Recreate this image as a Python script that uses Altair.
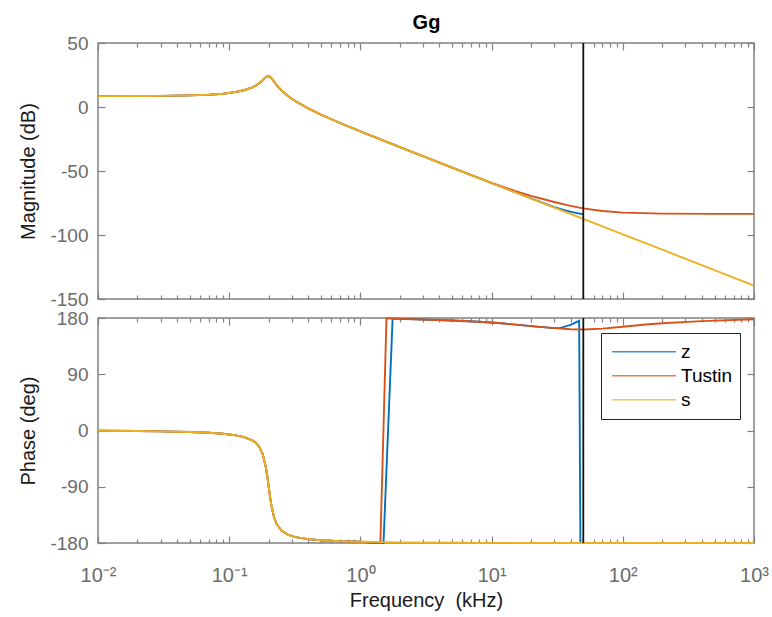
import altair as alt
import pandas as pd

# ---------------- data (frequency in kHz) ----------------
SERIES = ["z", "Tustin", "s"]
COLORS = ["#0072BD", "#D95319", "#EDB120"]
NYQUIST_KHZ = [50]
CHART_TITLE = "Gg"

# magnitude (dB): common low-frequency part (all three coincide up to 5 kHz)
F_MAG_LOW = [0.01, 0.02, 0.03, 0.05, 0.07, 0.09, 0.11, 0.13, 0.15, 0.16, 0.17, 0.18,
             0.19, 0.195, 0.2, 0.205, 0.21, 0.22, 0.23, 0.25, 0.28, 0.32, 0.4, 0.5,
             0.7, 1, 2, 5]
MAG_LOW = [8.5, 8.6, 8.7, 9.1, 9.6, 10.4, 11.6, 13.1, 15.3, 16.8, 18.7, 20.9,
           23.2, 24.0, 24.2, 23.6, 22.5, 19.7, 17.1, 13.0, 8.6, 4.5, -1.1, -5.9,
           -12.5, -19.1, -31.4, -47.4]
F_MAG_S_HI = [10, 20, 50, 100, 200, 500, 1000]
MAG_S_HI = [-59.5, -71.5, -87.4, -99.5, -111.5, -127.4, -139.5]
F_MAG_T_HI = [10, 15, 20, 30, 40, 50, 70, 100, 200, 500, 1000]
MAG_T_HI = [-59.3, -65.5, -69.5, -74.2, -77.3, -79.2, -81.3, -82.5, -83.3, -83.5, -83.5]
F_MAG_Z_HI = [10, 20, 30, 37, 43, 47, 50]
MAG_Z_HI = [-59.5, -71.4, -78.2, -81.0, -82.5, -83.3, -83.8]

# phase (deg): common low-frequency part (up to 1 kHz)
F_PH_LOW = [0.01, 0.02, 0.03, 0.05, 0.07, 0.09, 0.11, 0.13, 0.15, 0.16, 0.17, 0.18,
            0.19, 0.195, 0.2, 0.205, 0.21, 0.22, 0.23, 0.25, 0.28, 0.32, 0.4, 0.5,
            0.7, 1]
PH_LOW = [-0.5, -0.9, -1.4, -2.5, -3.7, -5.3, -7.4, -10.5, -15.7, -20.0, -26.7, -37.8,
          -58.0, -72.8, -90.0, -106.8, -120.8, -139.3, -149.7, -160.0, -166.5, -170.5,
          -173.8, -175.5, -177.1, -178.0]
F_PH_S_HI = [2, 5, 10, 20, 50, 100, 200, 500, 1000]
PH_S_HI = [-179.0, -179.6, -179.8, -179.9, -179.95, -179.97, -179.98, -179.99, -179.99]
F_PH_T_HI = [1.2, 1.42, 1.58, 2, 3, 5, 8, 12, 20, 30, 40, 50, 70, 100, 150, 200, 400, 1000]
PH_T_HI = [-179.1, -179.9, 179.4, 178.6, 177.5, 176, 174, 171.5, 167, 163.8, 162, 161.6,
           163, 166, 169.5, 171.5, 175, 178]
F_PH_Z_HI = [1.2, 1.5, 1.76, 2, 3, 5, 8, 12, 20, 30, 33, 40, 46.5, 47.5, 50]
PH_Z_HI = [-179.1, -179.9, 179.0, 178.6, 177.5, 176, 174, 171.5, 167, 163.8, 163.8, 169,
           175.5, -179.9, -179.9]

X_MAJOR = [0.01, 0.1, 1, 10, 100, 1000]
X_LABELS = ["10\u207b\u00b2", "10\u207b\u00b9", "10\u2070", "10\u00b9", "10\u00b2", "10\u00b3"]
X_MINOR = [m * 10.0 ** e for e in range(-2, 3) for m in range(2, 10)]
MAG_TICKS = [-150, -100, -50, 0, 50]
PH_TICKS = [-180, -90, 0, 90, 180]


def long_df(parts):
    rows = []
    for name, fs, vs in parts:
        for f, v in zip(fs, vs):
            rows.append({"f": f, "v": v, "series": name})
    return pd.DataFrame(rows)


mag_df = long_df([
    ("z", F_MAG_LOW + F_MAG_Z_HI, MAG_LOW + MAG_Z_HI),
    ("Tustin", F_MAG_LOW + F_MAG_T_HI, MAG_LOW + MAG_T_HI),
    ("s", F_MAG_LOW + F_MAG_S_HI, MAG_LOW + MAG_S_HI),
])
ph_df = long_df([
    ("z", F_PH_LOW + F_PH_Z_HI, PH_LOW + PH_Z_HI),
    ("Tustin", F_PH_LOW + F_PH_T_HI, PH_LOW + PH_T_HI),
    ("s", F_PH_LOW + F_PH_S_HI, PH_LOW + PH_S_HI),
])
nyq_df = pd.DataFrame({"f": NYQUIST_KHZ})

# ---------------- styling ----------------
FONT = "Liberation Sans"
AX_GRAY = "#808080"
LBL_GRAY = "#6b6b6b"
TITLE_COL = "#1a1a1a"
W = 656
H_TOP = 256
H_BOT = 225
MAJ = 7
MIN = 4

x_label_expr = " : ".join(
    f"datum.value < {v * 5} ? '{lab}'" for v, lab in zip(X_MAJOR[:-1], X_LABELS[:-1])
) + f" : '{X_LABELS[-1]}'"

x_scale = alt.Scale(type="log", domain=[X_MAJOR[0], X_MAJOR[-1]], nice=False)
c_scale = alt.Scale(domain=SERIES, range=COLORS)


def tick_axis(orient, values, size):
    return alt.Axis(orient=orient, values=values, tickSize=size, offset=-size,
                    domain=False, grid=False, labels=False, title=None,
                    tickColor=AX_GRAY, tickWidth=1.2)


def panel(df, ydomain, yticks, ytitle, height, show_x, legend, title=None):
    y_scale = alt.Scale(domain=ydomain, nice=False, zero=False)

    y_left = alt.Axis(orient="left", values=yticks, tickSize=MAJ, offset=-MAJ,
                      domain=False, grid=False, tickColor=AX_GRAY, tickWidth=1.2,
                      labelExpr="datum.value + ''", labelFontSize=19, labelFont=FONT,
                      labelColor=LBL_GRAY, labelPadding=10, labelFlush=False,
                      labelOverlap=False, title=ytitle, titleFont=FONT, titleFontSize=20,
                      titleFontWeight="normal", titleColor=TITLE_COL, titleAngle=270,
                      titleX=-71, titleY=height / 2, titleBaseline="alphabetic",
                      titleAlign="center")
    if show_x:
        x_bottom = alt.Axis(orient="bottom", values=X_MAJOR, tickSize=MAJ, offset=-MAJ,
                            domain=False, grid=False, tickColor=AX_GRAY, tickWidth=1.2,
                            labelExpr=x_label_expr, labelFontSize=20, labelFont=FONT,
                            labelColor=LBL_GRAY, labelPadding=22, labelFlush=False,
                            labelOverlap=False, title="Frequency \u00a0(kHz)",
                            titleFont=FONT, titleFontSize=20, titleFontWeight="normal",
                            titleColor=TITLE_COL, titleY=70, titleX=W / 2,
                            titleBaseline="alphabetic", titleAlign="center")
    else:
        x_bottom = tick_axis("bottom", X_MAJOR, MAJ)

    if title:
        x_top = alt.Axis(orient="top", values=X_MAJOR, tickSize=MAJ, offset=-MAJ,
                         domain=False, grid=False, labels=False, tickColor=AX_GRAY,
                         tickWidth=1.2, title=title, titleFont=FONT, titleFontSize=20,
                         titleFontWeight="bold", titleColor="black", titleX=W / 2,
                         titleY=-22, titleBaseline="alphabetic", titleAlign="center")
    else:
        x_top = tick_axis("top", X_MAJOR, MAJ)

    def line(name, xaxis, yaxis):
        return alt.Chart(df[df.series == name]).mark_line(strokeWidth=1.9).encode(
            x=alt.X("f:Q", scale=x_scale, axis=xaxis),
            y=alt.Y("v:Q", scale=y_scale, axis=yaxis),
            color=alt.Color("series:N", scale=c_scale, legend=legend),
        )

    def ghost(xaxis, yaxis):
        return alt.Chart(df).mark_point(opacity=0, size=1).encode(
            x=alt.X("f:Q", scale=x_scale, axis=xaxis),
            y=alt.Y("v:Q", scale=y_scale, axis=yaxis),
        )

    rule = alt.Chart(nyq_df).mark_rule(color="#111111", strokeWidth=1.8).encode(
        x=alt.X("f:Q", scale=x_scale, axis=None)
    )

    layers = [
        line("z", x_bottom, y_left),
        line("Tustin", None, None),
        line("s", None, None),
        ghost(tick_axis("bottom", X_MINOR, MIN),
              tick_axis("right", yticks, MAJ)),
        ghost(x_top, None),
        ghost(tick_axis("top", X_MINOR, MIN), None),
        rule,
    ]
    return alt.layer(*layers).resolve_axis(x="independent", y="independent").properties(
        width=W, height=height)


legend = alt.Legend(title=None, orient="none", legendX=503, legendY=15,
                    symbolType="stroke", symbolSize=4096, symbolStrokeWidth=1.5,
                    symbolOpacity=0.75, symbolOffset=3, labelFontSize=19,
                    labelFont=FONT, labelColor="black", labelOffset=4, padding=7,
                    strokeColor="#262626", fillColor="white", clipHeight=23.5,
                    rowPadding=0, cornerRadius=0)

top = panel(mag_df, [-150, 50], MAG_TICKS, "Magnitude (dB)", H_TOP, False, None,
            title=CHART_TITLE)
bottom = panel(ph_df, [-180, 180], PH_TICKS, "Phase (deg)", H_BOT, True, legend)

chart = alt.vconcat(top, bottom, spacing=19, bounds="flush").resolve_legend(
    color="independent").properties(
    padding={"left": 17, "top": 11, "right": 2, "bottom": 5}
).configure(font=FONT, background="white").configure_view(
    stroke=AX_GRAY, strokeWidth=1.5)

chart.save("out.html", embed_options={"renderer": "svg", "actions": False})
